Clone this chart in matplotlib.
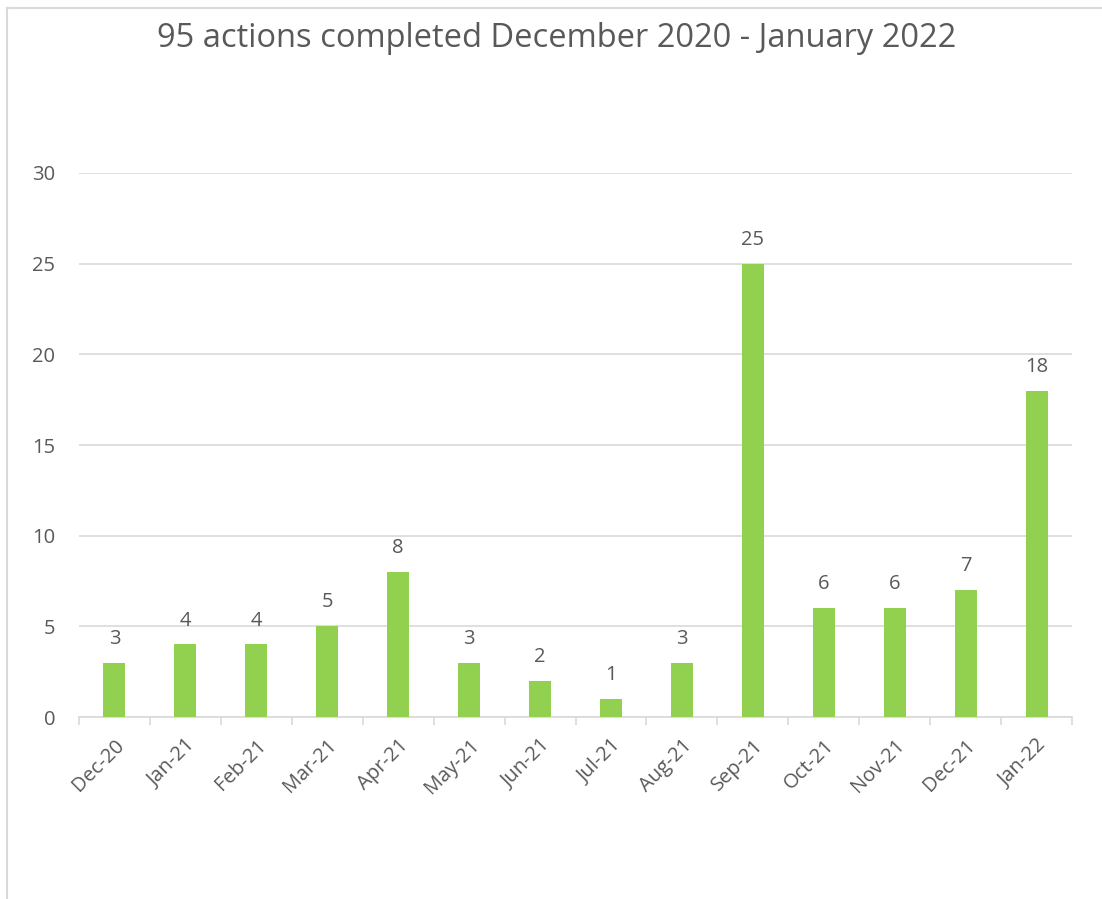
"""Monthly completed actions, Dec 2020 - Jan 2022 -> out.png"""

import matplotlib

matplotlib.use("Agg")
import matplotlib.pyplot as plt
import numpy as np
from matplotlib.lines import Line2D

months = ["Dec-20", "Jan-21", "Feb-21", "Mar-21", "Apr-21", "May-21", "Jun-21",
          "Jul-21", "Aug-21", "Sep-21", "Oct-21", "Nov-21", "Dec-21", "Jan-22"]
actions = [3, 4, 4, 5, 8, 3, 2, 1, 3, 25, 6, 6, 7, 18]
yticks = [0, 5, 10, 15, 20, 25, 30]

TXT = "#595959"
GRID = "#D9D9D9"
GREEN = "#92D050"

plt.rcParams["font.family"] = ["Open Sans", "DejaVu Sans"]

fig = plt.figure(figsize=(11.02, 8.99), dpi=100)
ax = fig.add_axes([0.0717, 0.2024, 0.9011, 0.6052])

x = np.arange(len(months))
bars = ax.bar(x, actions, width=0.31, color=GREEN, zorder=3)
for b, v in zip(bars, actions):
    ax.annotate(str(v), (b.get_x() + b.get_width() / 2, v), xytext=(0, 10),
                textcoords="offset points", ha="center", va="bottom",
                fontsize=14.5, color=TXT)

ax.set_xlim(-0.5, len(months) - 0.5)
ax.set_ylim(0, 30)
ax.set_yticks(yticks)
ax.yaxis.grid(True, color=GRID, lw=1.2, zorder=0)
ax.tick_params(axis="y", length=0, pad=17, labelsize=14.5, labelcolor=TXT)

ax.set_xticks(x)
ax.set_xticklabels(months, rotation=45, ha="right", rotation_mode="anchor")
ax.tick_params(axis="x", which="major", length=0, pad=13, labelsize=14.5, labelcolor=TXT)
ax.set_xticks(np.arange(len(months) + 1) - 0.5, minor=True)
ax.tick_params(axis="x", which="minor", length=6, width=1.2, color=GRID)

for s in ["top", "right", "left"]:
    ax.spines[s].set_visible(False)
ax.spines["bottom"].set_color(GRID)
ax.spines["bottom"].set_linewidth(1.2)

fig.text(0.505, 0.957, "95 actions completed December 2020 - January 2022",
         ha="center", va="center", fontsize=23.5, color=TXT)

# chart-area border (only top and left edges are in frame)
fig.add_artist(Line2D([7 / 1102, 7 / 1102], [0, 1 - 8 / 899], color=GRID, lw=1.5))
fig.add_artist(Line2D([7 / 1102, 1], [1 - 8 / 899, 1 - 8 / 899], color=GRID, lw=1.5))

fig.savefig("out.png", dpi=100)
